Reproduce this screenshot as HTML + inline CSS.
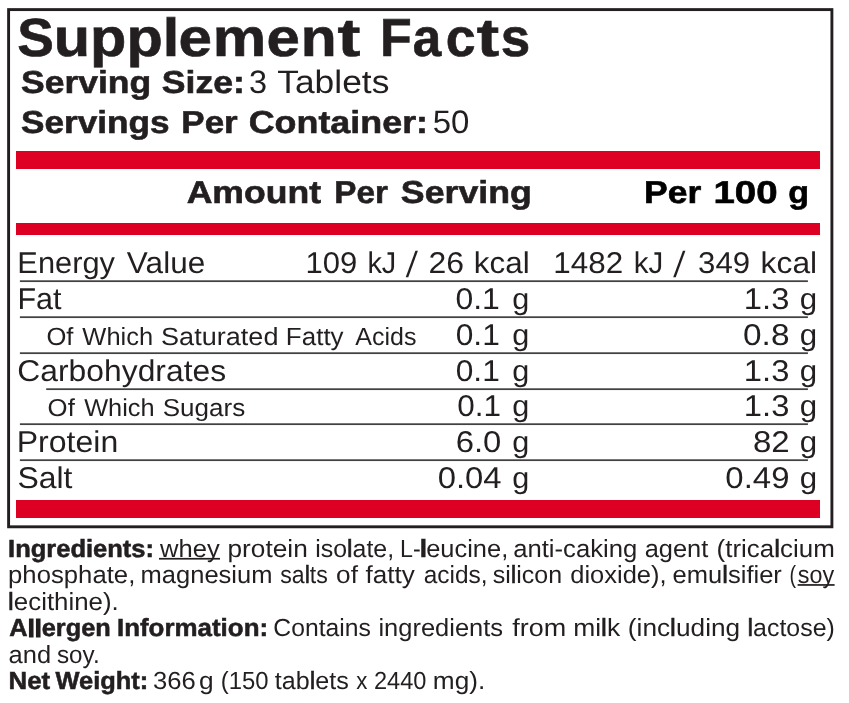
<!DOCTYPE html>
<html><head><meta charset="utf-8"><title>Supplement Facts</title>
<style>
html,body{margin:0;padding:0;background:#fff;}
body{width:849px;height:703px;position:relative;overflow:hidden;font-family:"Liberation Sans",sans-serif;color:#231f20;}
.w{position:absolute;left:0;top:0;width:849px;height:703px;will-change:transform;}
svg{position:absolute;left:0;top:0;}
.t{position:absolute;left:0;top:0;white-space:pre;line-height:1;transform-origin:0 0;}
.b{font-weight:700;}
.r{font-weight:400;}
</style></head><body><div class="w">
<svg width="849" height="703" viewBox="0 0 849 703">
<rect x="8.6" y="9.6" width="823.3" height="517.2" fill="none" stroke="#231f20" stroke-width="2.9"/>
<rect x="16" y="151" width="804" height="18" fill="#de0022"/>
<rect x="16" y="223" width="804" height="12" fill="#de0022"/>
<rect x="16" y="500" width="804" height="18" fill="#de0022"/>
<rect x="19.9" y="280.30" width="788.0" height="1.75" fill="#414042"/>
<rect x="19.9" y="316.30" width="788.0" height="1.75" fill="#414042"/>
<rect x="19.9" y="352.30" width="788.0" height="1.75" fill="#414042"/>
<rect x="46.2" y="388.30" width="761.7" height="1.75" fill="#414042"/>
<rect x="19.9" y="423.30" width="788.0" height="1.75" fill="#414042"/>
<rect x="19.9" y="459.30" width="788.0" height="1.75" fill="#414042"/>
<rect x="159" y="557.9" width="61" height="1.7" fill="#231f20"/>
<rect x="797.6" y="584.1" width="37" height="1.7" fill="#231f20"/>
</svg>

<span class="t b" style="font-size:53.6px;-webkit-text-stroke:0.6px #231f20;transform:matrix(1.0260,0,.001,1,17.22,11.00)">S</span><span class="t b" style="font-size:53.6px;-webkit-text-stroke:0.6px #231f20;transform:matrix(1.1099,0,.001,1,53.67,11.00)">upp</span><span class="t b" style="font-size:53.6px;-webkit-text-stroke:0.6px #231f20;transform:matrix(1.1125,0,.001,1,162.81,11.00)">l</span><span class="t b" style="font-size:53.6px;-webkit-text-stroke:0.6px #231f20;transform:matrix(1.1245,0,.001,1,178.53,11.00)">e</span><span class="t b" style="font-size:53.6px;-webkit-text-stroke:0.6px #231f20;transform:matrix(1.1229,0,.001,1,212.65,11.00)">m</span><span class="t b" style="font-size:53.6px;-webkit-text-stroke:0.6px #231f20;transform:matrix(1.1208,0,.001,1,266.54,11.00)">e</span><span class="t b" style="font-size:53.6px;-webkit-text-stroke:0.6px #231f20;transform:matrix(1.0981,0,.001,1,300.73,11.00)">n</span><span class="t b" style="font-size:53.6px;-webkit-text-stroke:0.6px #231f20;transform:matrix(1.2870,0,.001,1,337.58,11.00)">t</span>
<span class="t b" style="font-size:53.6px;-webkit-text-stroke:0.6px #231f20;transform:matrix(0.9694,0,.001,1,379.95,11.00)">F</span><span class="t b" style="font-size:53.6px;-webkit-text-stroke:0.6px #231f20;transform:matrix(0.9573,0,.001,1,412.60,11.00)">a</span><span class="t b" style="font-size:53.6px;-webkit-text-stroke:0.6px #231f20;transform:matrix(1.0019,0,.001,1,445.65,11.00)">c</span><span class="t b" style="font-size:53.6px;-webkit-text-stroke:0.6px #231f20;transform:matrix(1.2580,0,.001,1,476.79,11.00)">t</span><span class="t b" style="font-size:53.6px;-webkit-text-stroke:0.6px #231f20;transform:matrix(0.9887,0,.001,1,500.72,11.00)">s</span>
<span class="t b" style="font-size:31.7px;-webkit-text-stroke:0.6px #231f20;transform:matrix(1.1211,0,.001,1,20.94,67.00)">Serving</span>
<span class="t b" style="font-size:31.7px;-webkit-text-stroke:0.6px #231f20;transform:matrix(1.1237,0,.001,1,161.84,67.00)">Size:</span>
<span class="t r" style="font-size:32.5px;transform:matrix(1.0000,0,.001,1,248.85,66.00)">3</span>
<span class="t r" style="font-size:32.5px;transform:matrix(1.0891,0,.001,1,277.18,66.00)">Tablets</span>
<span class="t b" style="font-size:31.7px;-webkit-text-stroke:0.6px #231f20;transform:matrix(1.1100,0,.001,1,20.94,107.00)">Servings</span>
<span class="t b" style="font-size:31.7px;-webkit-text-stroke:0.6px #231f20;transform:matrix(1.1046,0,.001,1,181.27,107.00)">Per</span>
<span class="t b" style="font-size:31.7px;-webkit-text-stroke:0.6px #231f20;transform:matrix(1.1321,0,.001,1,248.67,107.00)">Container:</span>
<span class="t r" style="font-size:32.5px;transform:matrix(1.0149,0,.001,1,432.63,106.00)">50</span>
<span class="t b" style="font-size:31.7px;-webkit-text-stroke:0.6px #231f20;transform:matrix(1.1227,0,.001,1,186.64,177.00)">Amount</span>
<span class="t b" style="font-size:31.7px;-webkit-text-stroke:0.6px #231f20;transform:matrix(1.0497,0,.001,1,334.26,177.00)">Per</span>
<span class="t b" style="font-size:31.7px;-webkit-text-stroke:0.6px #231f20;transform:matrix(1.1272,0,.001,1,400.84,177.00)">Serving</span>
<span class="t b" style="font-size:31.6px;color:#000;-webkit-text-stroke:0.6px #000;transform:matrix(1.1245,0,.001,1,644.03,177.00)">Per</span>
<span class="t b" style="font-size:31.6px;color:#000;-webkit-text-stroke:0.6px #000;transform:matrix(1.2160,0,.001,1,713.47,177.00)">100</span>
<span class="t b" style="font-size:31.6px;color:#000;-webkit-text-stroke:0.6px #000;transform:matrix(1.0788,0,.001,1,788.22,177.00)">g</span>
<span class="t r" style="font-size:30.0px;transform:matrix(1.0270,0,.001,1,17.33,248.00)">Energy</span>
<span class="t r" style="font-size:30.0px;transform:matrix(1.0521,0,.001,1,126.84,248.00)">Value</span>
<span class="t r" style="font-size:30.0px;transform:matrix(1.0173,0,.001,1,17.36,284.00)">Fat</span>
<span class="t r" style="font-size:24.9px;transform:matrix(1.0280,0,.001,1,46.42,324.00)">Of</span>
<span class="t r" style="font-size:24.9px;transform:matrix(1.0245,0,.001,1,82.34,324.00)">Which</span>
<span class="t r" style="font-size:24.9px;transform:matrix(1.0876,0,.001,1,161.04,324.00)">Saturated</span>
<span class="t r" style="font-size:24.9px;transform:matrix(1.0441,0,.001,1,285.81,324.00)">Fatty</span>
<span class="t r" style="font-size:24.9px;transform:matrix(1.0050,0,.001,1,355.20,324.00)">Acids</span>
<span class="t r" style="font-size:30.0px;transform:matrix(1.0610,0,.001,1,17.31,356.00)">Carbohydrates</span>
<span class="t r" style="font-size:24.5px;transform:matrix(1.0505,0,.001,1,47.59,396.00)">Of</span>
<span class="t r" style="font-size:24.5px;transform:matrix(1.0355,0,.001,1,84.14,396.00)">Which</span>
<span class="t r" style="font-size:24.5px;transform:matrix(1.0623,0,.001,1,162.67,396.00)">Sugars</span>
<span class="t r" style="font-size:30.0px;transform:matrix(1.0685,0,.001,1,16.63,427.00)">Protein</span>
<span class="t r" style="font-size:30.0px;transform:matrix(1.0640,0,.001,1,17.40,463.00)">Salt</span>
<span class="t r" style="font-size:30.0px;transform:matrix(1.0344,0,.001,1,305.57,248.00)">109</span>
<span class="t r" style="font-size:30.0px;transform:matrix(0.9631,0,.001,1,367.37,248.00)">kJ</span>
<span class="t r" style="font-size:30.0px;transform:matrix(1.0802,0,-0.1451,1.2074,409.47,247.00)">/</span>
<span class="t r" style="font-size:30.0px;transform:matrix(1.0656,0,.001,1,428.40,248.00)">26</span>
<span class="t r" style="font-size:30.0px;transform:matrix(1.0477,0,.001,1,473.70,248.00)">kcal</span>
<span class="t r" style="font-size:30.0px;transform:matrix(1.0460,0,.001,1,553.25,248.00)">1482</span>
<span class="t r" style="font-size:30.0px;transform:matrix(0.9864,0,.001,1,633.73,248.00)">kJ</span>
<span class="t r" style="font-size:30.0px;transform:matrix(1.0802,0,-0.1451,1.2074,676.97,247.00)">/</span>
<span class="t r" style="font-size:30.0px;transform:matrix(1.0400,0,.001,1,698.10,248.00)">349</span>
<span class="t r" style="font-size:30.0px;transform:matrix(1.0599,0,.001,1,760.58,248.00)">kcal</span>
<span class="t r" style="font-size:30.0px;transform:matrix(1.0641,0,.001,1,455.37,284.00)">0.1</span>
<span class="t r" style="font-size:30.0px;transform:matrix(1.0222,0,.001,1,512.22,284.00)">g</span>
<span class="t r" style="font-size:30.0px;transform:matrix(1.0921,0,.001,1,743.84,284.00)">1.3</span>
<span class="t r" style="font-size:30.0px;transform:matrix(1.0444,0,.001,1,799.69,284.00)">g</span>
<span class="t r" style="font-size:30.0px;transform:matrix(1.0564,0,.001,1,455.68,320.00)">0.1</span>
<span class="t r" style="font-size:30.0px;transform:matrix(1.0222,0,.001,1,512.22,320.00)">g</span>
<span class="t r" style="font-size:30.0px;transform:matrix(1.1128,0,.001,1,743.01,320.00)">0.8</span>
<span class="t r" style="font-size:30.0px;transform:matrix(1.0444,0,.001,1,799.69,320.00)">g</span>
<span class="t r" style="font-size:30.0px;transform:matrix(1.0564,0,.001,1,455.68,356.00)">0.1</span>
<span class="t r" style="font-size:30.0px;transform:matrix(1.0222,0,.001,1,512.22,356.00)">g</span>
<span class="t r" style="font-size:30.0px;transform:matrix(1.0921,0,.001,1,743.84,356.00)">1.3</span>
<span class="t r" style="font-size:30.0px;transform:matrix(1.0444,0,.001,1,799.69,356.00)">g</span>
<span class="t r" style="font-size:30.0px;transform:matrix(1.0487,0,.001,1,457.19,391.00)">0.1</span>
<span class="t r" style="font-size:30.0px;transform:matrix(1.0222,0,.001,1,512.22,391.00)">g</span>
<span class="t r" style="font-size:30.0px;transform:matrix(1.0921,0,.001,1,743.84,391.00)">1.3</span>
<span class="t r" style="font-size:30.0px;transform:matrix(1.0444,0,.001,1,799.69,391.00)">g</span>
<span class="t r" style="font-size:30.0px;transform:matrix(1.0949,0,.001,1,455.66,427.00)">6.0</span>
<span class="t r" style="font-size:30.0px;transform:matrix(1.0222,0,.001,1,512.22,427.00)">g</span>
<span class="t r" style="font-size:30.0px;transform:matrix(1.1016,0,.001,1,752.92,427.00)">82</span>
<span class="t r" style="font-size:30.0px;transform:matrix(1.0444,0,.001,1,799.69,427.00)">g</span>
<span class="t r" style="font-size:30.0px;transform:matrix(1.0951,0,.001,1,437.63,463.00)">0.04</span>
<span class="t r" style="font-size:30.0px;transform:matrix(1.0222,0,.001,1,512.22,463.00)">g</span>
<span class="t r" style="font-size:30.0px;transform:matrix(1.0978,0,.001,1,725.33,463.00)">0.49</span>
<span class="t r" style="font-size:30.0px;transform:matrix(1.0444,0,.001,1,799.69,463.00)">g</span>
<span class="t b" style="font-size:24.7px;-webkit-text-stroke:0.55px #231f20;transform:matrix(1.0330,0,.001,1,8.05,537.00)">Ingredients:</span>
<span class="t r" style="font-size:24.7px;transform:matrix(1.0365,0,.001,1,160.00,537.00)">whey</span>
<span class="t r" style="font-size:24.7px;transform:matrix(1.0648,0,.001,1,227.40,537.00)">protein</span>
<span class="t r" style="font-size:24.7px;transform:matrix(1.0088,0,.001,1,315.13,537.00)">iso<i style="font-style:normal;-webkit-text-stroke:0.6px #231f20">l</i>ate,</span>
<span class="t r" style="font-size:24.7px;transform:matrix(0.9421,0,.001,1,399.92,537.00)">L-</span><span class="t r" style="font-size:24.7px;transform:matrix(1.5200,0,.001,1,419.12,537.00)"><i style="font-style:normal;-webkit-text-stroke:0.6px #231f20">l</i></span><span class="t r" style="font-size:24.7px;transform:matrix(1.0301,0,.001,1,426.17,537.00)">eucine,</span>
<span class="t r" style="font-size:24.7px;transform:matrix(1.0398,0,.001,1,513.16,537.00)">anti-caking</span>
<span class="t r" style="font-size:24.7px;transform:matrix(1.0298,0,.001,1,644.67,537.00)">agent</span>
<span class="t r" style="font-size:24.7px;transform:matrix(1.0521,0,.001,1,716.52,537.00)">(trica<i style="font-style:normal;-webkit-text-stroke:0.6px #231f20">l</i>cium</span>
<span class="t r" style="font-size:24.7px;transform:matrix(1.0414,0,.001,1,8.04,563.00)">phosphate,</span>
<span class="t r" style="font-size:24.7px;transform:matrix(1.0342,0,.001,1,140.49,563.00)">magnesium</span>
<span class="t r" style="font-size:24.7px;transform:matrix(0.9360,0,.001,1,280.20,563.00)">sa<i style="font-style:normal;-webkit-text-stroke:0.6px #231f20">l</i>ts</span>
<span class="t r" style="font-size:24.7px;transform:matrix(1.0633,0,.001,1,336.04,563.00)">of</span>
<span class="t r" style="font-size:24.7px;transform:matrix(1.0573,0,.001,1,365.44,563.00)">fatty</span>
<span class="t r" style="font-size:24.7px;transform:matrix(0.9910,0,.001,1,423.61,563.00)">acids,</span>
<span class="t r" style="font-size:24.7px;transform:matrix(1.0128,0,.001,1,492.64,563.00)">si<i style="font-style:normal;-webkit-text-stroke:0.6px #231f20">l</i>icon</span>
<span class="t r" style="font-size:24.7px;transform:matrix(1.0333,0,.001,1,570.17,563.00)">dioxide),</span>
<span class="t r" style="font-size:24.7px;transform:matrix(1.0341,0,.001,1,672.57,563.00)">emu<i style="font-style:normal;-webkit-text-stroke:0.6px #231f20">l</i>sifier</span>
<span class="t r" style="font-size:24.7px;transform:matrix(0.8000,0,.001,1,789.60,563.00)">(</span><span class="t r" style="font-size:24.7px;transform:matrix(0.9467,0,.001,1,797.69,563.00)">soy</span>
<span class="t r" style="font-size:24.7px;transform:matrix(1.0480,0,.001,1,8.03,590.00)"><i style="font-style:normal;-webkit-text-stroke:0.6px #231f20">l</i>ecithine).</span>
<span class="t b" style="font-size:24.7px;-webkit-text-stroke:0.55px #231f20;transform:matrix(1.0262,0,.001,1,9.34,616.00)">A<i style="font-style:normal;position:relative;top:1px;-webkit-text-stroke:1.1px #231f20">l</i><i style="font-style:normal;position:relative;top:1px;-webkit-text-stroke:1.1px #231f20">l</i>ergen</span>
<span class="t b" style="font-size:24.7px;-webkit-text-stroke:0.55px #231f20;transform:matrix(1.0496,0,.001,1,116.93,616.00)">Information:</span>
<span class="t r" style="font-size:24.7px;transform:matrix(1.0016,0,.001,1,273.35,616.00)">Contains</span>
<span class="t r" style="font-size:24.7px;transform:matrix(1.0326,0,.001,1,378.39,616.00)">ingredients</span>
<span class="t r" style="font-size:24.7px;transform:matrix(1.0926,0,.001,1,512.13,616.00)">from</span>
<span class="t r" style="font-size:24.7px;transform:matrix(1.0714,0,.001,1,573.12,616.00)">mi<i style="font-style:normal;-webkit-text-stroke:0.6px #231f20">l</i>k</span>
<span class="t r" style="font-size:24.7px;transform:matrix(1.0634,0,.001,1,627.80,616.00)">(inc<i style="font-style:normal;-webkit-text-stroke:0.6px #231f20">l</i>uding</span>
<span class="t r" style="font-size:24.7px;transform:matrix(1.0096,0,.001,1,747.49,616.00)"><i style="font-style:normal;-webkit-text-stroke:0.6px #231f20">l</i>actose)</span>
<span class="t r" style="font-size:24.7px;transform:matrix(1.0338,0,.001,1,8.57,643.00)">and</span>
<span class="t r" style="font-size:24.7px;transform:matrix(0.9827,0,.001,1,56.96,643.00)">soy.</span>
<span class="t b" style="font-size:24.7px;-webkit-text-stroke:0.55px #231f20;transform:matrix(1.0458,0,.001,1,8.53,669.00)">Net</span>
<span class="t b" style="font-size:24.7px;-webkit-text-stroke:0.55px #231f20;transform:matrix(1.0300,0,.001,1,55.46,669.00)">Weight:</span>
<span class="t r" style="font-size:24.7px;transform:matrix(1.0385,0,.001,1,152.96,669.00)">366</span>
<span class="t r" style="font-size:24.7px;transform:matrix(1.0667,0,.001,1,198.93,669.00)">g</span>
<span class="t r" style="font-size:24.7px;transform:matrix(0.9681,0,.001,1,220.75,669.00)">(150</span>
<span class="t r" style="font-size:24.7px;transform:matrix(1.0168,0,.001,1,274.79,669.00)">tab<i style="font-style:normal;-webkit-text-stroke:0.6px #231f20">l</i>ets</span>
<span class="t r" style="font-size:24.7px;transform:matrix(0.9021,0,.001,1,356.17,669.00)">x</span>
<span class="t r" style="font-size:24.7px;transform:matrix(0.9573,0,.001,1,373.90,669.00)">2440</span>
<span class="t r" style="font-size:24.7px;transform:matrix(1.0630,0,.001,1,432.84,669.00)">mg).</span>
</div></body></html>
